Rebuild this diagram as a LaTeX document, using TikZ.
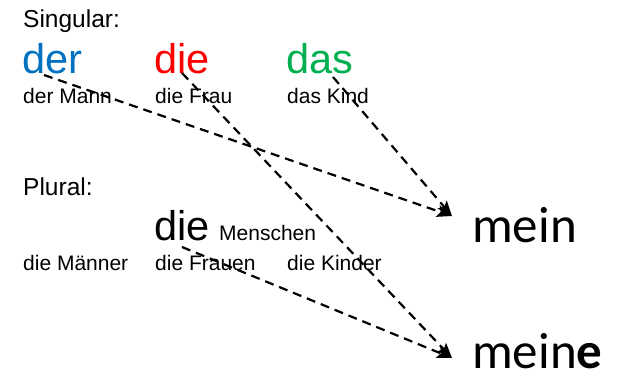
\documentclass[tikz,border=0pt]{standalone}
\usepackage{fontspec}
\setmainfont{Liberation Sans}
\newfontfamily\calfont{Carlito}
\usetikzlibrary{arrows.meta}
\definecolor{derblue}{RGB}{0,112,192}
\definecolor{diered}{RGB}{255,0,0}
\definecolor{dasgreen}{RGB}{0,176,80}
\begin{document}
\begin{tikzpicture}[x=1pt,y=-1pt,
  txt/.style={inner sep=0pt,anchor=base west},
  head/.style={txt,font=\fontsize{24.5}{24.5}\selectfont},
  big/.style={txt,font=\fontsize{41.5}{41.5}\selectfont},
  small/.style={txt,font=\fontsize{21}{21}\selectfont},
  poss/.style={txt,font=\calfont\fontsize{51}{51}\selectfont},
  link/.style={draw=black,line width=2.2pt,dash pattern=on 9pt off 6pt,
    -{Stealth[length=15pt,width=12pt,inset=3pt]}}]
\useasboundingbox (0,0) rectangle (618,376);
\node[head] (sing) at (23,27) {Singular:};
\node[big,text=derblue] (der) at (22,73) {der};
\node[big,text=diered] (die) at (154,73) {die};
\node[big,text=dasgreen] (das) at (286,73) {das};
\node[small] (mann) at (23,103) {der Mann};
\node[small] (frau) at (155,103) {die Frau};
\node[small] (kind) at (287,103) {das Kind};
\node[head] (plur) at (23,195) {Plural:};
\node[big] (diepl) at (154,240) {die};
\node[small] (menschen) at (219,240) {Menschen};
\node[small] (maenner) at (23,270) {die Männer};
\node[small] (frauen) at (155,270) {die Frauen};
\node[small] (kinder) at (287,270) {die Kinder};
\node[poss] (mein) at (472,242) {mein};
\node[poss] (meine) at (472,368) {mein\textbf{e}};
\coordinate (sder) at (44,75);
\coordinate (sdie) at (182,73);
\coordinate (sdas) at (333,77);
\coordinate (sdiepl) at (182,247);
\coordinate (tmein) at (452,216);
\coordinate (tmeine) at (452,358);
\draw[link] (sder) -- (tmein);
\draw[link] (sdas) -- (tmein);
\draw[link] (sdie) -- (tmeine);
\draw[link] (sdiepl) -- (tmeine);
\end{tikzpicture}
\end{document}
